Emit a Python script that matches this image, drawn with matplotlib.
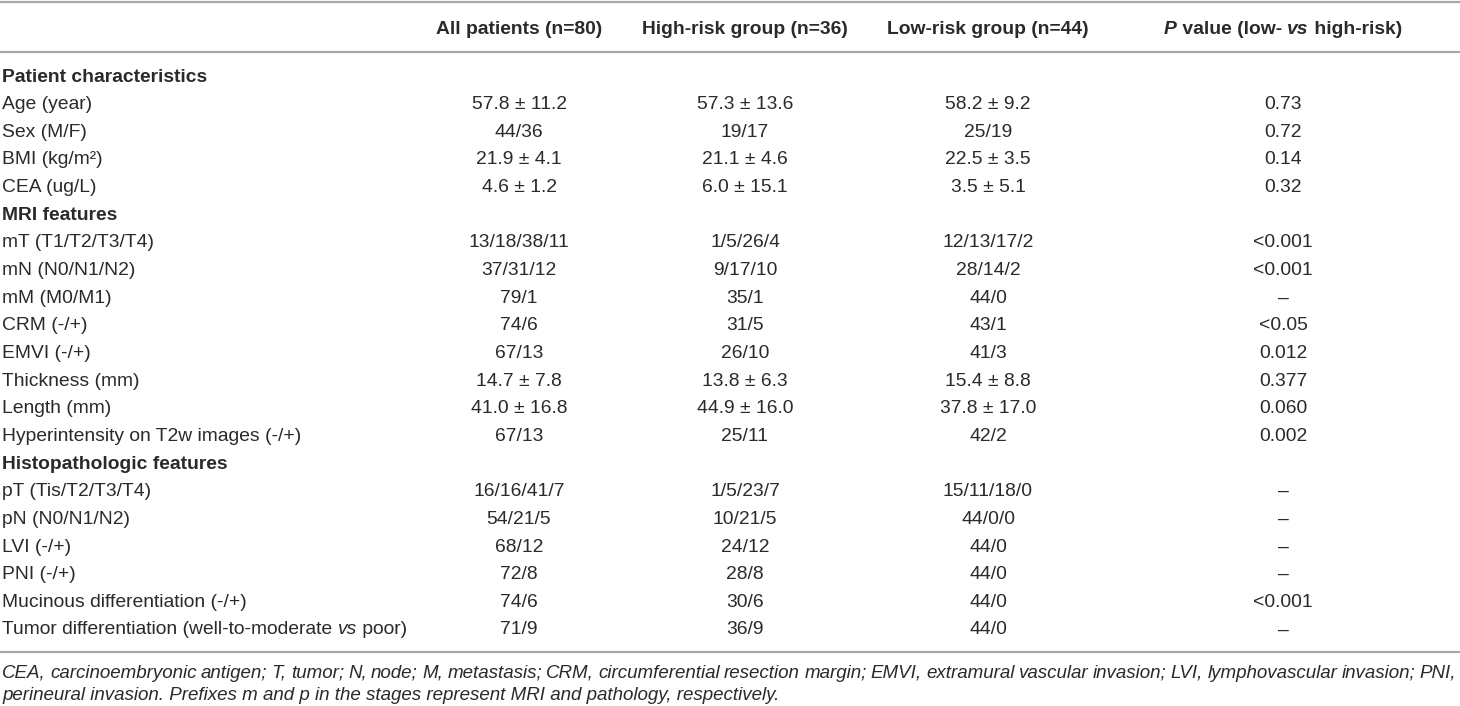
import matplotlib
matplotlib.use("Agg")
import matplotlib.pyplot as plt

plt.rcParams['font.family'] = ['Liberation Sans', 'DejaVu Sans']

# table content
col_headers = ["All patients (n=80)", "High-risk group (n=36)", "Low-risk group (n=44)"]
rows = [
    ("Patient characteristics", None, None, None, None),
    ("Age (year)", "57.8 ± 11.2", "57.3 ± 13.6", "58.2 ± 9.2", "0.73"),
    ("Sex (M/F)", "44/36", "19/17", "25/19", "0.72"),
    ("BMI (kg/m²)", "21.9 ± 4.1", "21.1 ± 4.6", "22.5 ± 3.5", "0.14"),
    ("CEA (ug/L)", "4.6 ± 1.2", "6.0 ± 15.1", "3.5 ± 5.1", "0.32"),
    ("MRI features", None, None, None, None),
    ("mT (T1/T2/T3/T4)", "13/18/38/11", "1/5/26/4", "12/13/17/2", "<0.001"),
    ("mN (N0/N1/N2)", "37/31/12", "9/17/10", "28/14/2", "<0.001"),
    ("mM (M0/M1)", "79/1", "35/1", "44/0", "–"),
    ("CRM (-/+)", "74/6", "31/5", "43/1", "<0.05"),
    ("EMVI (-/+)", "67/13", "26/10", "41/3", "0.012"),
    ("Thickness (mm)", "14.7 ± 7.8", "13.8 ± 6.3", "15.4 ± 8.8", "0.377"),
    ("Length (mm)", "41.0 ± 16.8", "44.9 ± 16.0", "37.8 ± 17.0", "0.060"),
    ("Hyperintensity on T2w images (-/+)", "67/13", "25/11", "42/2", "0.002"),
    ("Histopathologic features", None, None, None, None),
    ("pT (Tis/T2/T3/T4)", "16/16/41/7", "1/5/23/7", "15/11/18/0", "–"),
    ("pN (N0/N1/N2)", "54/21/5", "10/21/5", "44/0/0", "–"),
    ("LVI (-/+)", "68/12", "24/12", "44/0", "–"),
    ("PNI (-/+)", "72/8", "28/8", "44/0", "–"),
    ("Mucinous differentiation (-/+)", "74/6", "30/6", "44/0", "<0.001"),
    ("Tumor differentiation (well-to-moderate vs poor)", "71/9", "36/9", "44/0", "–"),
]
footnote_1 = ("CEA, carcinoembryonic antigen; T, tumor; N, node; M, metastasis; CRM, circumferential "
              "resection margin; EMVI, extramural vascular invasion; LVI, lymphovascular invasion; PNI,")
footnote_2 = "perineural invasion. Prefixes m and p in the stages represent MRI and pathology, respectively."

W, H = 1460, 706
fs = 13.9
fs_note = 13.5
txt_color = "#2a2a2a"
line_color = "#a6a6a6"
col_x = [519, 745, 988, 1283]
label_x = 2
header_y = 29
row_y0 = 77
row_dy = 27.65

fig = plt.figure(figsize=(W / 100, H / 100), dpi=100)
ax = fig.add_axes([0, 0, 1, 1])
ax.set_xlim(0, W)
ax.set_ylim(H, 0)
ax.axis("off")
renderer = fig.canvas.get_renderer()


def width_of(s, size=fs, **kw):
    t = ax.text(0, 0, s, fontsize=size, **kw)
    w = t.get_window_extent(renderer).width
    t.remove()
    return w


def draw_runs(x, y, runs, ha="left"):
    # runs: list of (text, style, weight); "|" padding keeps edge spaces measured
    widths = []
    for s, st, wt in runs:
        w = width_of("|" + s + "|", style=st, weight=wt) - width_of("||", style=st, weight=wt)
        widths.append(w)
    if ha == "center":
        x = x - sum(widths) / 2
    for (s, st, wt), w in zip(runs, widths):
        ax.text(x, y, s, fontsize=fs, style=st, weight=wt, color=txt_color,
                va="center", ha="left")
        x += w


# rules
for yl in (1.5, 51.5, 652):
    ax.plot([0, W], [yl, yl], color=line_color, lw=1.6, solid_capstyle="butt")

# header
for cx, h in zip(col_x, col_headers):
    ax.text(cx, header_y, h, fontsize=fs, weight="bold", color=txt_color, ha="center", va="center")
draw_runs(col_x[3], header_y, [("P", "italic", "bold"), (" value (low- ", "normal", "bold"),
                               ("vs", "italic", "bold"), (" high-risk)", "normal", "bold")], ha="center")

# body
for i, r in enumerate(rows):
    y = row_y0 + i * row_dy
    label = r[0]
    if r[1] is None:
        ax.text(label_x, y, label, fontsize=fs, weight="bold", color=txt_color, ha="left", va="center")
        continue
    if " vs " in label:
        a, b = label.split(" vs ")
        draw_runs(label_x, y, [(a + " ", "normal", "normal"), ("vs", "italic", "normal"),
                               (" " + b, "normal", "normal")])
    else:
        ax.text(label_x, y, label, fontsize=fs, color=txt_color, ha="left", va="center")
    for cx, v in zip(col_x, r[1:]):
        ax.text(cx, y, v, fontsize=fs, color=txt_color, ha="center", va="center")

# footnote, first line justified
words = footnote_1.split(" ")
ww = [width_of(w_, size=fs_note, style="italic") for w_ in words]
right = 1456
gap = (right - label_x - sum(ww)) / (len(words) - 1)
x = label_x
for w_, wd in zip(words, ww):
    ax.text(x, 673, w_, fontsize=fs_note, style="italic", color=txt_color, ha="left", va="center")
    x += wd + gap
ax.text(label_x, 695, footnote_2, fontsize=fs_note, style="italic", color=txt_color, ha="left", va="center")

fig.savefig("out.png", dpi=100)
